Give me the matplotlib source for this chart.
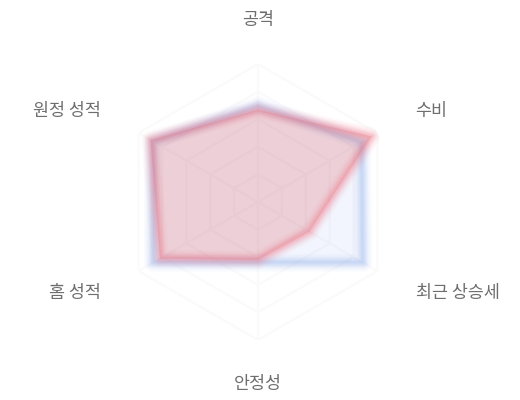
import numpy as np
import matplotlib
matplotlib.use("Agg")
import matplotlib.pyplot as plt

plt.rcParams['font.family'] = ['Noto Sans CJK KR', 'DejaVu Sans']

categories = ['공격', '수비', '최근 상승세', '안정성', '홈 성적', '원정 성적']
team_blue = [70, 87, 88, 44, 88, 88]
team_red = [67, 95, 43, 42, 82, 90]
max_value = 100
grid_levels = [20, 40, 60, 80, 100]

n = len(categories)
angles = np.deg2rad(np.arange(n) * 360.0 / n)

fig = plt.figure(figsize=(5.2, 4.0), dpi=100)
cx, cy, R = 258 / 520, 1 - 202 / 400, 138
ax = fig.add_axes([cx - R / 520, cy - R / 400, 2 * R / 520, 2 * R / 400], projection='polar')
ax.set_theta_offset(np.pi / 2)
ax.set_theta_direction(-1)
ax.set_ylim(0, max_value)
ax.axis('off')

# hexagonal grid (very faint)
closed = np.append(angles, angles[0])
for lv in grid_levels:
    ax.plot(closed, [lv] * (n + 1), color='#fafafb', lw=1.5, zorder=1)
for a in angles:
    ax.plot([a, a], [0, max_value], color='#fafafb', lw=1.5, zorder=1)

def draw(values, line_color, fill_color, fill_alpha, z):
    v = np.append(values, values[0])
    ax.fill(closed, v, color=fill_color, alpha=fill_alpha, lw=0, zorder=z)
    for lw, al in [(13, 0.04), (10.5, 0.06), (8, 0.08), (6, 0.10), (4, 0.11), (2.2, 0.12)]:
        ax.plot(closed, v, color=line_color, lw=lw, alpha=al, zorder=z + 1,
                solid_joinstyle='round', solid_capstyle='round')

draw(team_blue, '#8fb0ee', '#6f96ea', 0.09, 2)
draw(team_red, '#ee6f80', '#dd4a50', 0.22, 4)

label_r = max_value * 182 / R
for a, lab in zip(angles, categories):
    deg = np.rad2deg(a) % 360
    if deg == 0 or abs(deg - 180) < 1:
        ha = 'center'
    elif deg < 180:
        ha = 'left'
    else:
        ha = 'right'
    ax.text(a, label_r, lab, ha=ha, va='center', fontsize=12.5, color='#6e6e6e',
            clip_on=False)

fig.savefig('out.png', dpi=100, facecolor='white')
